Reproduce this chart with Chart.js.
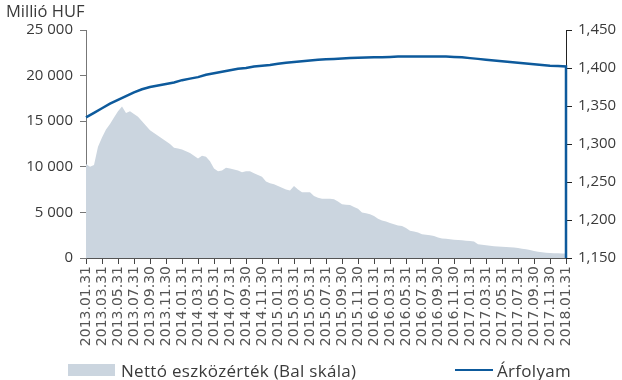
<!DOCTYPE html>
<html>
<head>
    <title>Nettó eszközérték és árfolyam</title>
    <script src="https://cdn.jsdelivr.net/npm/chart.js"></script>
    <style>
        body { margin: 0; background: #fff; }
        #wrap { position: relative; width: 622px; height: 380px; }
        #unit {
            position: absolute; left: 6px; top: -1px;
            font: 16.5px "Open Sans", sans-serif; color: #3a3a3a;
        }
        .leg {
            position: absolute; top: 360px; height: 20px;
            font: 17px "Open Sans", sans-serif; color: #3a3a3a;
            letter-spacing: 0.3px;
            display: flex; align-items: center; white-space: nowrap;
        }
        .leg .box { width: 47px; height: 12px; background: #cbd5df; margin-right: 6px; }
        .leg .ln { width: 38px; height: 2px; background: #0d5a9c; margin-right: 4px; }
    </style>
</head>
<body>
    <div id="wrap">
        <canvas id="chart" width="622" height="380"></canvas>
        <div id="unit">Millió HUF</div>
        <div class="leg" style="left:68px"><span class="box"></span>Nettó eszközérték (Bal skála)</div>
        <div class="leg" style="left:455px"><span class="ln"></span>Árfolyam</div>
    </div>

    <script>
        // x labels, every two months
        const tickLabels = [
            "2013.01.31", "2013.03.31", "2013.05.31", "2013.07.31", "2013.09.30", "2013.11.30",
            "2014.01.31", "2014.03.31", "2014.05.31", "2014.07.31", "2014.09.30", "2014.11.30",
            "2015.01.31", "2015.03.31", "2015.05.31", "2015.07.31", "2015.09.30", "2015.11.30",
            "2016.01.31", "2016.03.31", "2016.05.31", "2016.07.31", "2016.09.30", "2016.11.30",
            "2017.01.31", "2017.03.31", "2017.05.31", "2017.07.31", "2017.09.30", "2017.11.30",
            "2018.01.31"
        ];

        // nettó eszközérték, half-month steps (Millió HUF)
        const nettoEszkozertek = [
            10300, 10000, 10200, 12200, 13200, 14100, 14700, 15400, 16100, 16600,
            15900, 16100, 15800, 15500, 15000, 14500, 14000, 13700, 13400, 13100,
            12800, 12500, 12100, 12000, 11900, 11700, 11500, 11200, 10900, 11200,
            11100, 10600, 9800, 9500, 9600, 9900, 9800, 9700, 9600, 9400,
            9500, 9500, 9300, 9100, 8900, 8400, 8200, 8100, 7900, 7700,
            7500, 7400, 7900, 7500, 7200, 7200, 7200, 6800, 6600, 6500,
            6500, 6500, 6450, 6200, 5900, 5850, 5800, 5600, 5400, 5000,
            4900, 4800, 4600, 4300, 4100, 4000, 3850, 3700, 3550, 3500,
            3300, 3000, 2900, 2800, 2600, 2550, 2500, 2400, 2250, 2150,
            2100, 2050, 2000, 1960, 1940, 1900, 1860, 1800, 1520, 1450,
            1400, 1330, 1300, 1270, 1240, 1210, 1180, 1160, 1100, 1020,
            960, 870, 760, 680, 620, 580, 560, 530, 510, 500,
            480
        ];

        // árfolyam, monthly
        const arfolyam = [
            1335, 1341, 1347, 1353, 1358, 1363, 1368, 1372, 1375, 1377,
            1379, 1381, 1384, 1386, 1388, 1391, 1393, 1395, 1397, 1399,
            1400, 1402, 1403, 1404, 1405.5, 1407, 1408, 1409, 1410, 1411,
            1411.5, 1412, 1412.5, 1413, 1413.5, 1413.7, 1414, 1414, 1414.5, 1415,
            1415, 1415, 1415, 1415, 1415, 1415, 1414.5, 1414, 1413, 1412,
            1411, 1410, 1409, 1408, 1407, 1406, 1405, 1404, 1403, 1402.5,
            1402
        ];
        const arfolyamUtolso = 1150; // last value drops to the bottom

        const areaData = nettoEszkozertek.map((v, i) => ({ x: i / 2, y: v }));
        const lineData = arfolyam.map((v, i) => ({ x: i, y: v }));
        lineData.push({ x: arfolyam.length - 1, y: arfolyamUtolso });

        const tickFont = { family: 'Open Sans', size: 15 };

        new Chart(document.getElementById('chart'), {
            type: 'line',
            data: {
                datasets: [
                    {
                        label: 'Árfolyam',
                        data: lineData,
                        yAxisID: 'y1',
                        borderColor: '#0d5a9c',
                        borderWidth: 2.5,
                        pointRadius: 0,
                        fill: false,
                        tension: 0,
                        clip: 4,
                        order: 1
                    },
                    {
                        label: 'Nettó eszközérték (Bal skála)',
                        data: areaData,
                        yAxisID: 'y',
                        borderWidth: 0,
                        backgroundColor: '#cbd5df',
                        pointRadius: 0,
                        fill: 'origin',
                        tension: 0,
                        order: 2
                    }
                ]
            },
            options: {
                responsive: false,
                animation: false,
                layout: { padding: { top: 30, bottom: 0, left: 0, right: 0 } },
                plugins: {
                    legend: { display: false },
                    tooltip: { enabled: false }
                },
                scales: {
                    x: {
                        type: 'linear',
                        min: 0,
                        max: 60,
                        afterFit(scale) { scale.height = 122; },
                        grid: { drawOnChartArea: false, tickLength: 6, color: '#444' },
                        border: { color: '#555' },
                        ticks: {
                            stepSize: 2,
                            autoSkip: false,
                            minRotation: 90,
                            maxRotation: 90,
                            padding: 2,
                            color: '#555',
                            font: { family: 'DejaVu Sans', size: 14 },
                            callback: (v) => tickLabels[v / 2]
                        }
                    },
                    y: {
                        position: 'left',
                        min: 0,
                        max: 25000,
                        afterFit(scale) { scale.width = 86; },
                        grid: { drawOnChartArea: false, tickLength: 6, color: '#777' },
                        border: { color: '#777' },
                        ticks: {
                            stepSize: 5000,
                            padding: 7,
                            color: '#3a3a3a',
                            font: tickFont,
                            callback: (v) => String(v).replace(/\B(?=(\d{3})+(?!\d))/g, ' ')
                        }
                    },
                    y1: {
                        position: 'right',
                        min: 1150,
                        max: 1450,
                        afterFit(scale) { scale.width = 56; },
                        grid: { drawOnChartArea: false, tickLength: 6, color: '#222' },
                        border: { color: '#222' },
                        ticks: {
                            stepSize: 50,
                            padding: 6,
                            color: '#3a3a3a',
                            font: tickFont,
                            callback: (v) => v.toLocaleString('en-US')
                        }
                    }
                }
            }
        });
    </script>
</body>
</html>
